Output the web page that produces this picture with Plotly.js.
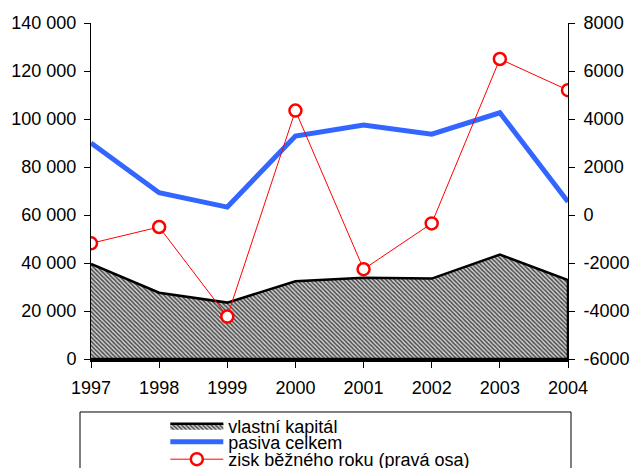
<!DOCTYPE html>
<html>
<head>
<meta charset="utf-8">
<script src="https://cdn.plot.ly/plotly-3.0.1.min.js"></script>
<style>html,body{margin:0;padding:0;background:#fff;}#chart{width:631px;height:468px;}</style>
</head>
<body>
<div id="chart"></div>
<script>
const years = [1997, 1998, 1999, 2000, 2001, 2002, 2003, 2004];
const vlastniKapital = [39600, 27600, 23500, 32400, 33900, 33500, 43500, 32900];
const pasivaCelkem = [90000, 69300, 63300, 92900, 97500, 93700, 102600, 65500];
const ziskBeznehoRoku = [-1180, -500, -4230, 4350, -2260, -350, 6500, 5200];
const leftTickVals = [0, 20000, 40000, 60000, 80000, 100000, 120000, 140000];
const leftTickText = ['0', '20 000', '40 000', '60 000', '80 000', '100 000', '120 000', '140 000'];
const rightTickVals = [-6000, -4000, -2000, 0, 2000, 4000, 6000, 8000];
const rightTickText = ['-6000', '-4000', '-2000', '0', '2000', '4000', '6000', '8000'];
const seriesNames = ['vlastní kapitál', 'pasiva celkem', 'zisk běžného roku (pravá osa)'];

const FONT = 'Arial, "Liberation Sans", sans-serif';

// closed polygon for the area (border all around, as in the original)
const areaX = years.concat([years[years.length - 1], years[0]]);
const areaY = vlastniKapital.concat([0, 0]);

const traces = [
  {
    x: areaX, y: areaY, name: seriesNames[0], type: 'scatter', mode: 'lines',
    fill: 'toself', fillcolor: '#999999',
    fillpattern: {shape: '\\', fgcolor: '#4a4a4a', bgcolor: '#d4d4d4', size: 3, solidity: 0.5},
    line: {color: '#000000', width: 2.5}, legend: 'legend', hoverinfo: 'skip'
  },
  {
    x: years, y: pasivaCelkem, name: seriesNames[1], type: 'scatter', mode: 'lines',
    line: {color: '#3366FF', width: 5}, legend: 'legend2'
  },
  {
    x: years, y: ziskBeznehoRoku, name: seriesNames[2], type: 'scatter', mode: 'lines+markers',
    yaxis: 'y2', line: {color: '#FF0000', width: 1},
    marker: {symbol: 'circle', size: 12, color: '#FFFFFF', line: {color: '#FF0000', width: 2.5}},
    legend: 'legend3'
  }
];

function legendAt(yc) {
  return {
    xref: 'container', yref: 'container', x: 0.262, y: yc, xanchor: 'left', yanchor: 'middle',
    bgcolor: 'rgba(0,0,0,0)', borderwidth: 0, itemwidth: 53,
    font: {family: FONT, size: 18, color: '#000'}
  };
}

const layout = {
  width: 631, height: 468,
  margin: {l: 91, r: 63, t: 23, b: 109, pad: 0, autoexpand: false},
  paper_bgcolor: '#fff', plot_bgcolor: '#fff',
  font: {family: FONT, size: 18, color: '#000'},
  showlegend: true,
  xaxis: {
    range: [years[0], years[years.length - 1]], tickmode: 'array', tickvals: years,
    ticktext: years.map(String),
    showgrid: false, zeroline: false, showline: true, linecolor: '#000', linewidth: 2.5,
    ticks: 'outside', ticklen: 6, tickcolor: '#000', tickwidth: 1, ticklabelstandoff: 5,
    tickfont: {family: FONT, size: 18, color: '#000'}
  },
  yaxis: {
    range: [0, 140000], tickmode: 'array', tickvals: leftTickVals, ticktext: leftTickText,
    showgrid: false, zeroline: false, showline: true, linecolor: '#000', linewidth: 1,
    ticks: 'outside', ticklen: 6, tickcolor: '#000', tickwidth: 1, ticklabelstandoff: 4,
    tickfont: {family: FONT, size: 18, color: '#000'}
  },
  yaxis2: {
    range: [-6000, 8000], overlaying: 'y', side: 'right',
    tickmode: 'array', tickvals: rightTickVals, ticktext: rightTickText,
    showgrid: false, zeroline: false, showline: true, linecolor: '#000', linewidth: 1,
    ticks: 'outside', ticklen: 6, tickcolor: '#000', tickwidth: 1, ticklabelstandoff: 5,
    tickfont: {family: FONT, size: 18, color: '#000'}
  },
  legend: legendAt(0.0897),
  legend2: legendAt(0.0556),
  legend3: legendAt(0.0182),
  shapes: [
    {type: 'rect', xref: 'paper', yref: 'paper', x0: -0.02306, x1: 1.00629, y0: -0.1577, y1: -0.36,
     line: {color: '#000', width: 1}, fillcolor: 'rgba(0,0,0,0)', layer: 'above'}
  ]
};

Plotly.newPlot('chart', traces, layout, {displayModeBar: false, staticPlot: true});
</script>
</body>
</html>
